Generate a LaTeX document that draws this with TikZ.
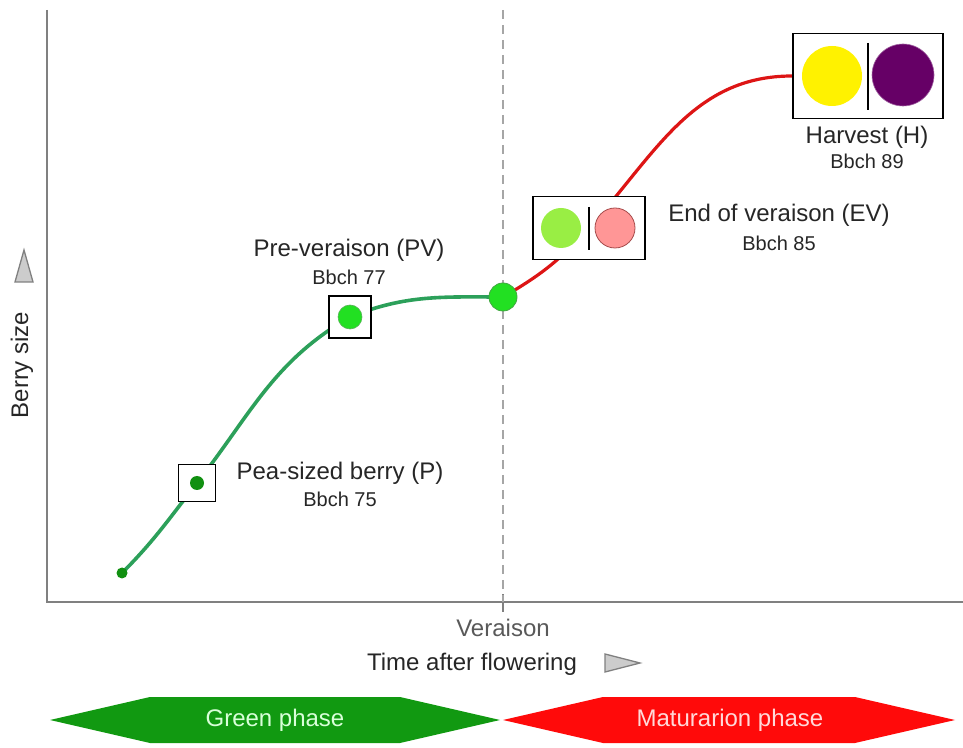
\documentclass[tikz,border=0pt]{standalone}
\usepackage{fontspec}
\setmainfont{Liberation Sans}
\usepackage{tikz}
\usetikzlibrary{backgrounds}
\definecolor{curveGreen}{HTML}{2CA05A}
\definecolor{curveRed}{HTML}{DD1515}
\definecolor{darkGreen}{HTML}{119011}
\definecolor{brightGreen}{HTML}{22E022}
\definecolor{lightGreen}{HTML}{99EE44}
\definecolor{lightPink}{HTML}{FF9696}
\definecolor{berryPurple}{HTML}{660066}
\definecolor{phaseGreen}{HTML}{119911}
\definecolor{phaseRed}{HTML}{FF0A0A}
\newcommand{\bigText}{\fontsize{24}{28}\selectfont}
\newcommand{\smallText}{\fontsize{20}{24}\selectfont}

\begin{document}
\begin{tikzpicture}[x=1pt,y=1pt,
    stageBox/.style = {draw=black,line width=1.8pt,fill=white,inner sep=0pt},
    berry/.style = {circle,inner sep=0pt},
    label/.style = {align = center,text=black!85}]
    \useasboundingbox (0,0) rectangle (963,747);

    % axes
    \draw [line width=2.2pt,black!50] (47,737) -- (47,145) -- (963,145);
    \draw [line width=1.5pt,black!50] (503,153) -- (503,135);
    \draw [line width=1.3pt,black!35,dash pattern=on 9pt off 6pt] (503,737) -- (503,145);
    \draw [line width=1.3pt,black!50,fill=black!20] (15,465) -- (33,465) -- (24,497) -- cycle;
    \draw [line width=1.3pt,black!50,fill=black!20] (605,93) -- (605,75) -- (640,84) -- cycle;
    \node[label,text=black!65] (veraisonLabel) at (503,119) {\bigText Veraison};
    \node[label] (timeLabel) at (472,83) {\bigText Time after flowering};
    \node[label,rotate = 90] (sizeLabel) at (22,382) {\bigText Berry size};

    % stages
    \node[berry,fill=darkGreen,minimum size=11pt] (start) at (122,174) {};
    \node[stageBox,minimum width=37pt,minimum height=37pt] (peaBox) at (197,264) {};
    \node[stageBox,minimum width=42pt,minimum height=42pt] (pvBox) at (350,430) {};
    \node[berry,draw=darkGreen!80,line width=0.8pt,fill=brightGreen,minimum size=28pt] (veraisonBerry) at (503,450) {};
    \node[stageBox,minimum width=112pt,minimum height=63pt] (evBox) at (589,519) {};
    \node[stageBox,minimum width=150pt,minimum height=85pt] (harvestBox) at (868,671) {};

    \node[berry,fill=darkGreen,minimum size=14pt] (peaBerry) at (peaBox.center) {};
    \node[berry,draw=darkGreen!70,line width=0.6pt,fill=brightGreen,minimum size=24pt] (pvBerry) at (pvBox.center) {};
    \node[berry,fill=lightGreen,minimum size=40pt] (evGreen) at (561,519) {};
    \node[berry,draw=red!50!black!70,line width=0.8pt,fill=lightPink,minimum size=40pt] (evPink) at (615,519) {};
    \draw [line width=1.6pt] (589,540) -- (589,497);
    \node[berry,fill=yellow,minimum size=60pt] (hYellow) at (832,671) {};
    \node[berry,draw=berryPurple!60,line width=0.6pt,fill=berryPurple,minimum size=62pt] (hPurple) at (903,672) {};
    \draw [line width=1.6pt] (868,704) -- (868,637);

    % growth curve, behind the boxes
    \begin{pgfonlayer}{background}
    \draw [line width=3.6pt,curveGreen] (start.center) to[out = 45,in = -128] (peaBox.center) to[out = 52,in = -150] (pvBox.center) to[out = 22,in = 180] (veraisonBerry.center);
    \draw [line width=3.2pt,curveRed] (veraisonBerry.center) to[out = 30,in = -132] (evBox.center) to[out = 48,in = 180] (harvestBox.west);
    \end{pgfonlayer}

    % stage labels
    \node[label] (peaName) at (340,274) {\bigText Pea-sized berry (P)};
    \node[label] (peaCode) at (340,248) {\smallText Bbch 75};
    \node[label] (pvName) at (349,497) {\bigText Pre-veraison (PV)};
    \node[label] (pvCode) at (349,470) {\smallText Bbch 77};
    \node[label] (evName) at (779,532) {\bigText End of veraison (EV)};
    \node[label] (evCode) at (779,504) {\smallText Bbch 85};
    \node[label] (hName) at (867,610) {\bigText Harvest (H)};
    \node[label] (hCode) at (867,586) {\smallText Bbch 89};

    % phases
    \fill [phaseGreen] (50,27) -- (150,50) -- (400,50) -- (500,27) -- (400,4) -- (150,4) -- cycle;
    \fill [phaseRed] (503,27) -- (603,50) -- (855,50) -- (955,27) -- (855,4) -- (603,4) -- cycle;
    \node[text=green!15!white] (greenPhase) at (275,27) {\bigText Green phase};
    \node[text=red!15!white] (ripePhase) at (730,27) {\bigText Maturarion phase};
\end{tikzpicture}
\end{document}
